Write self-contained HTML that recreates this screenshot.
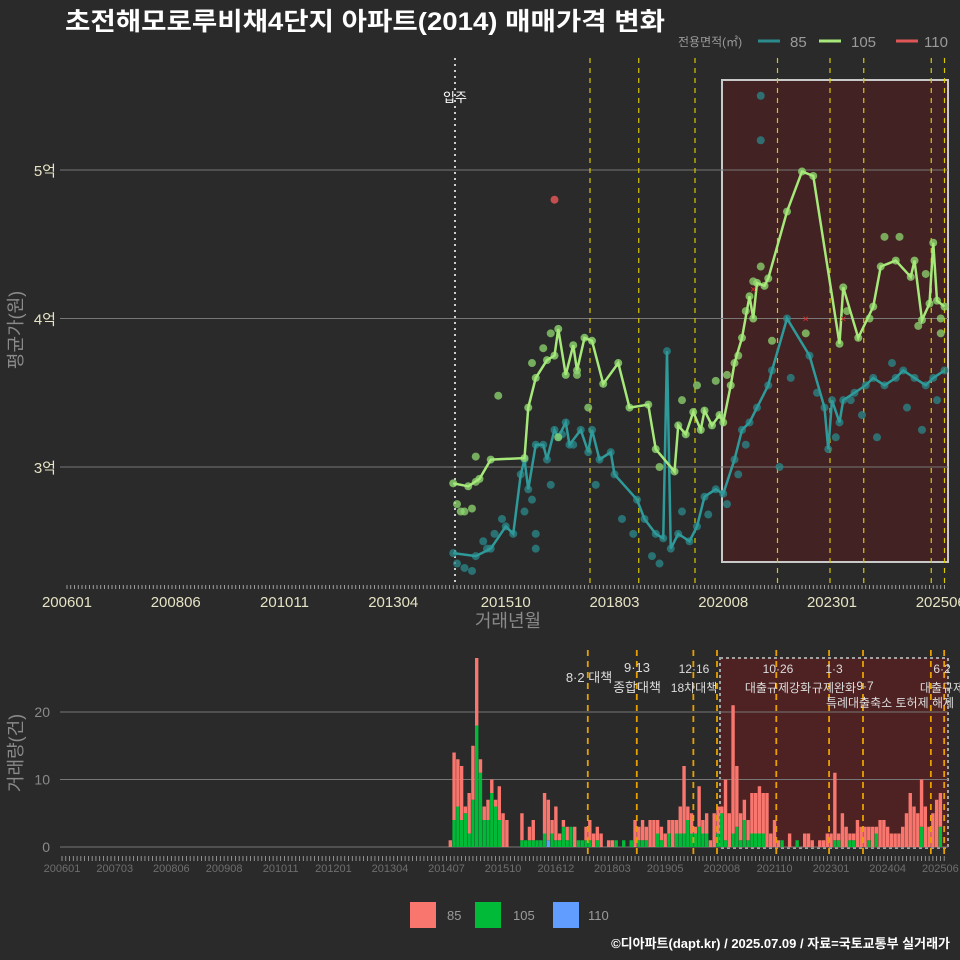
<!DOCTYPE html>
<html><head><meta charset="utf-8"><style>
html,body{margin:0;padding:0;background:#2a2a2a;}
svg{display:block;font-family:"Liberation Sans","Noto Sans CJK KR",sans-serif;}
</style></head><body>
<svg id="chart" width="960" height="960" viewBox="0 0 960 960">
<rect x="0" y="0" width="960" height="960" fill="#2a2a2a"/>
<text x="65" y="30" fill="#ffffff" font-size="25" font-weight="bold" textLength="600" lengthAdjust="spacingAndGlyphs">초전해모로루비채4단지 아파트(2014) 매매가격 변화</text>
<g>
<text x="678" y="46" fill="#9a9a9a" font-size="12">전용면적(㎡)</text>
<line x1="758" y1="41" x2="780" y2="41" stroke="#2a8a8c" stroke-width="3"/>
<text x="790" y="47" fill="#9a9a9a" font-size="15">85</text>
<line x1="819" y1="41" x2="841" y2="41" stroke="#a6e87a" stroke-width="3"/>
<text x="851" y="47" fill="#9a9a9a" font-size="15">105</text>
<line x1="896" y1="41" x2="918" y2="41" stroke="#e05555" stroke-width="3"/>
<text x="924" y="47" fill="#9a9a9a" font-size="15">110</text>
</g>
<g id="upper"></g>
<g id="lower"></g>
<g>
<rect x="410" y="902" width="26" height="26" fill="#f8766d"/>
<text x="447" y="920" fill="#9a9a9a" font-size="13">85</text>
<rect x="475" y="902" width="26" height="26" fill="#00ba38"/>
<text x="513" y="920" fill="#9a9a9a" font-size="13">105</text>
<rect x="553" y="902" width="26" height="26" fill="#619cff"/>
<text x="588" y="920" fill="#9a9a9a" font-size="13">110</text>
</g>
<text x="950" y="948" text-anchor="end" fill="#ffffff" font-size="13" font-weight="bold">©디아파트(dapt.kr) / 2025.07.09 / 자료=국토교통부 실거래가</text>
</svg>
<script>
// ---- data ----
const lineDates105 = ["2014-08","2014-12","2015-03","2015-06","2016-03","2016-04","2016-06","2016-09","2016-11","2016-12","2017-02","2017-04","2017-05","2017-07","2017-09","2017-12","2018-04","2018-07","2018-12","2019-02","2019-07","2019-08","2019-10","2019-12","2020-02","2020-03","2020-05","2020-07","2020-08","2020-10","2020-11","2021-01","2021-03","2021-04","2021-05","2021-07","2021-08","2022-01","2022-05","2022-08","2023-03","2023-04","2023-08","2023-12","2024-02","2024-06","2024-10","2024-11","2025-01","2025-03","2025-04","2025-05","2025-07"];
const lineValues105 = [2.89,2.87,2.92,3.05,3.06,3.40,3.60,3.72,3.75,3.93,3.62,3.82,3.65,3.87,3.85,3.56,3.70,3.40,3.42,3.12,2.97,3.28,3.22,3.37,3.25,3.38,3.28,3.35,3.30,3.55,3.70,3.87,4.15,4.00,4.24,4.22,4.27,4.72,4.99,4.96,3.83,4.21,3.87,4.08,4.35,4.39,4.28,4.39,3.99,4.10,4.51,4.12,4.08];
const lineDates85 = ["2014-08","2015-02","2015-06","2015-10","2015-12","2016-02","2016-03","2016-04","2016-06","2016-08","2016-09","2016-11","2016-12","2017-02","2017-03","2017-06","2017-08","2017-09","2017-11","2018-02","2018-03","2018-09","2018-11","2019-02","2019-04","2019-05","2019-06","2019-08","2019-11","2020-01","2020-03","2020-06","2020-08","2020-11","2021-01","2021-03","2021-05","2021-08","2021-09","2022-01","2022-07","2022-11","2022-12","2023-01","2023-03","2023-04","2023-07","2023-10","2023-12","2024-03","2024-06","2024-08","2024-11","2025-02","2025-04","2025-07"];
const lineValues85 = [2.42,2.40,2.45,2.60,2.55,2.95,3.05,2.85,3.15,3.15,3.05,3.25,3.20,3.30,3.15,3.25,3.10,3.25,3.05,3.10,2.95,2.78,2.65,2.55,2.52,3.78,2.45,2.55,2.50,2.60,2.80,2.85,2.82,3.05,3.25,3.30,3.40,3.55,3.65,4.00,3.75,3.40,3.12,3.45,3.30,3.45,3.50,3.55,3.60,3.55,3.60,3.65,3.60,3.55,3.60,3.65];
const extraDates85 = ["2014-09","2014-11","2015-01","2015-04","2015-05","2015-07","2015-09","2016-03","2016-05","2016-06","2016-06","2016-10","2017-01","2017-04","2017-10","2018-05","2018-08","2019-01","2019-03","2019-09","2020-04","2020-09","2020-12","2021-02","2021-06","2021-06","2021-11","2022-02","2022-09","2023-02","2023-06","2023-09","2024-01","2024-05","2024-09","2025-01","2025-05"];
const extraValues85 = [2.35,2.32,2.30,2.50,2.45,2.55,2.65,2.70,2.78,2.55,2.45,2.88,3.22,3.15,2.88,2.65,2.55,2.40,2.35,2.70,2.68,2.75,2.95,3.15,5.50,5.20,3.00,3.60,3.50,3.20,3.45,3.35,3.20,3.70,3.40,3.25,3.45];
const extraDates105 = ["2014-09","2014-10","2014-11","2015-01","2015-02","2015-02","2015-08","2016-05","2016-08","2016-10","2016-12","2017-05","2017-08","2019-03","2019-09","2020-01","2020-06","2020-09","2020-12","2021-02","2021-04","2021-06","2021-09","2022-06","2023-05","2023-11","2024-03","2024-07","2024-12","2025-02","2025-06","2025-06"];
const extraValues105 = [2.75,2.70,2.70,2.72,3.07,2.90,3.48,3.70,3.80,3.90,3.20,3.62,3.40,3.00,3.45,3.55,3.58,3.62,3.75,4.05,4.25,4.35,3.85,3.90,4.05,4.00,4.55,4.55,3.95,4.30,3.90,4.00];
const dates110 = ["2016-11","2021-04","2022-06","2023-04"];
const values110 = [4.80,4.20,4.00,4.00];
const upperTickLabels = ["200601","200806","201011","201304","201510","201803","202008","202301","202506"];
const priceTicks = [3,4,5];
const priceTickLabels = ["3억","4억","5억"];
const policyDates = ["2017-08-15","2018-09-15","2019-12-15","2021-10-15","2022-12-15","2023-09-15","2025-03-15","2025-07-01"];
const barStartMonth = "2014-08";
const barTotal = [1,14,13,12,6,8,15,28,13,6,7,10,7,9,5,4,0,0,0,5,1,3,4,1,1,8,7,4,6,2,4,3,3,3,1,1,3,4,2,3,2,0,1,1,1,0,1,0,1,4,3,4,3,4,4,4,3,2,4,4,4,6,12,6,5,3,9,4,5,1,5,6,6,10,5,21,12,5,7,4,8,8,9,8,8,2,4,1,1,0,2,0,1,0,2,2,1,0,1,1,2,2,11,2,5,3,2,2,4,3,3,3,3,3,4,4,3,2,2,2,3,5,8,6,5,10,6,3,5,7,8];
const bar105 = [0,4,6,4,5,2,7,18,11,4,4,8,6,4,0,0,0,0,0,1,1,1,1,1,1,2,0,2,1,1,3,1,3,0,1,1,1,1,0,1,0,0,0,0,1,0,1,0,1,0,1,1,1,0,0,2,1,0,2,0,2,2,2,4,2,2,3,2,2,0,0,2,5,1,0,2,3,1,4,1,2,2,2,2,0,0,0,0,1,0,0,0,1,0,0,0,0,0,0,0,0,0,1,1,0,0,1,1,0,0,0,1,0,2,0,0,0,0,0,0,0,0,0,0,0,3,0,0,0,0,3];
const bar110 = [0,0,0,0,0,0,0,0,0,0,0,0,0,0,0,0,0,0,0,0,0,0,0,0,0,0,1,0,0,0,0,0,0,0,0,0,0,0,0,0,0,0,0,0,0,0,0,0,0,0,0,0,0,0,0,0,0,0,0,0,0,0,0,0,0,0,0,0,0,0,0,0,0,0,0,0,0,0,0,0,0,0,0,0,0,0,0,0,0,0,0,0,0,0,0,0,0,0,0,0,0,0,0,0,0,0,0,0,0,0,0,0,0,0,0,0,0,0,0,0,0,0,0,0,0,0,0,0,0,0,0];
const lowerTickLabels = ["200601","200703","200806","200908","201011","201201","201304","201407","201510","201612","201803","201905","202008","202110","202301","202404","202506"];
const volTicks = [0,10,20];

// ---- scales ----
const NS="http://www.w3.org/2000/svg";
function mIdx(s){const t=s.replace(/-/g,'');const y=+t.slice(0,4),m=+t.slice(4,6);let d=0;if(t.length>6)d=(+t.slice(6,8)-1)/30;return (y-2006)*12+(m-1)+d;}
function xU(s){return 67+mIdx(s)*3.75;}
function yU(v){return 467-(v-3)*148.5;}
function xL(s){return 62+mIdx(s)*3.77;}
function xLi(i){return 62+i*3.77;}
function yL(c){return 847-c*6.75;}
function mk(tag,attrs,parent){const e=document.createElementNS(NS,tag);for(const k in attrs)e.setAttribute(k,attrs[k]);parent.appendChild(e);return e;}
const U=document.getElementById('upper'), L=document.getElementById('lower');

// ---- upper panel ----
let e;
e=mk('rect',{x:722,y:80,width:226,height:482,fill:'#4a2020',opacity:0.75,stroke:'#ffffff','stroke-width':2},U);


priceTicks.forEach((v,i)=>{
  e=mk('line',{x1:60,x2:948,y1:yU(v),y2:yU(v),stroke:'#777',"stroke-width":1},U);
  
  
  e=mk('text',{x:56,y:yU(v)+6,'text-anchor':'end',fill:'#e6e2c4','font-size':15},U);e.textContent=priceTickLabels[i];
  
  
});
e=mk('line',{x1:455,x2:455,y1:58,y2:585,stroke:'#cccccc','stroke-dasharray':'2,4','stroke-width':2},U);


e=mk('text',{x:455,y:102,'text-anchor':'middle',fill:'#ffffff','font-size':13},U);e.textContent='입주';


policyDates.forEach(d=>{
  e=mk('line',{x1:xU(d),x2:xU(d),y1:58,y2:585,stroke:'#d8c800','stroke-dasharray':'5,5','stroke-width':1.2},U);
  
  
});
function drawSeries(dates,vals,color,name,r,op){
  dates.forEach((d,i)=>{
    e=mk('circle',{cx:xU(d),cy:yU(vals[i]),r:r,fill:color,opacity:op},U);
    
    
  });
}
drawSeries(extraDates85,extraValues85,'#2a8a8c','area-85',4,0.75);
drawSeries(lineDates85,lineValues85,'#2a8a8c','area-85',4,0.75);
e=mk('polyline',{points:lineDates85.map((d,i)=>xU(d)+','+yU(lineValues85[i])).join(' '),fill:'none',stroke:'#2f9a9a','stroke-width':2.5},U);


drawSeries(extraDates105,extraValues105,'#8fd870','area-105',4,0.75);
drawSeries(lineDates105,lineValues105,'#8fd870','area-105',4,0.8);
e=mk('polyline',{points:lineDates105.map((d,i)=>xU(d)+','+yU(lineValues105[i])).join(' '),fill:'none',stroke:'#a6e87a','stroke-width':2.5},U);


drawSeries(dates110.slice(0,1),values110.slice(0,1),'#e05555','area-110',4,0.85);
dates110.slice(1).forEach((d,i)=>{
  e=mk('text',{x:xU(d),y:yU(values110[i+1])+4,'text-anchor':'middle',fill:'#e03030','font-size':11},U);e.textContent='×';
  
  
});
for(let m=0;m<=234;m++){
  e=mk('line',{x1:67+m*3.75,x2:67+m*3.75,y1:585,y2:589,stroke:'#bbbbbb','stroke-width':0.8},U);
  
  
}
upperTickLabels.forEach(s=>{
  e=mk('text',{x:xU(s),y:607,'text-anchor':'middle',fill:'#e6e2c4','font-size':15},U);e.textContent=s;
  
  
});
e=mk('text',{x:508,y:627,'text-anchor':'middle',fill:'#8a8a8a','font-size':18},U);e.textContent='거래년월';


e=mk('text',{x:0,y:0,'text-anchor':'middle',fill:'#8a8a8a','font-size':18,transform:'translate(22,330) rotate(-90)'},U);e.textContent='평균가(원)';



// ---- lower panel ----
e=mk('rect',{x:720,y:658,width:228,height:190,fill:'#5a2020',opacity:0.75,stroke:'#cccccc','stroke-dasharray':'3,3','stroke-width':2},L);


volTicks.forEach(v=>{
  e=mk('line',{x1:60,x2:948,y1:yL(v),y2:yL(v),stroke:'#777','stroke-width':1},L);
  
  
  e=mk('text',{x:50,y:yL(v)+5,'text-anchor':'end',fill:'#8a8a8a','font-size':14},L);e.textContent=v;
  
  
});
const b0=mIdx(barStartMonth);
barTotal.forEach((t,i)=>{
  const x=xLi(b0+i)-1.7, w=3.4;
  const g=bar105[i], bl=bar110[i], r=t-g-bl;
  if(g>0){e=mk('rect',{x:x,y:yL(g),width:w,height:yL(0)-yL(g),fill:'#00ba38'},L);
    
    }
  if(bl>0){e=mk('rect',{x:x,y:yL(g+bl),width:w,height:yL(g)-yL(g+bl),fill:'#619cff'},L);
    
    }
  if(r>0){e=mk('rect',{x:x,y:yL(t),width:w,height:yL(g+bl)-yL(t),fill:'#f8766d'},L);
    
    }
});
policyDates.forEach(d=>{
  e=mk('line',{x1:xL(d),x2:xL(d),y1:650,y2:857,stroke:'#e8a000','stroke-dasharray':'6,5','stroke-width':1.8},L);
  
  
});
e=mk('line',{x1:717,x2:717,y1:650,y2:857,stroke:'#e8a000','stroke-dasharray':'6,5','stroke-width':1.8},L);


const notes=[[589,682,'8·2 대책',13],[637,672,'9·13',13],[637,692,'종합대책',13],[694,673,'12·16',12],[694,692,'18차대책',12],[778,673,'10·26',12],[778,692,'대출규제강화',12],[834,673,'1·3',12],[834,692,'규제완화',12],[865,690,'9·7',12],[890,707,'특례대출축소 토허제 해제',12],[942,673,'6·2',12],[942,692,'대출규제',12]];
notes.forEach(n=>{
  e=mk('text',{x:n[0],y:n[1],'text-anchor':'middle',fill:'#dddddd','font-size':n[3]},L);e.textContent=n[2];
  
  
});
for(let m=0;m<=234;m++){
  e=mk('line',{x1:62+m*3.77,x2:62+m*3.77,y1:856,y2:861,stroke:'#aaaaaa','stroke-width':0.8},L);
  
  
}
lowerTickLabels.forEach(s=>{
  e=mk('text',{x:xL(s),y:872,'text-anchor':'middle',fill:'#6e6e6e','font-size':11},L);e.textContent=s;
  
  
});
e=mk('text',{x:0,y:0,'text-anchor':'middle',fill:'#8a8a8a','font-size':18,transform:'translate(22,753) rotate(-90)'},L);e.textContent='거래량(건)';


</script>
</body></html>
